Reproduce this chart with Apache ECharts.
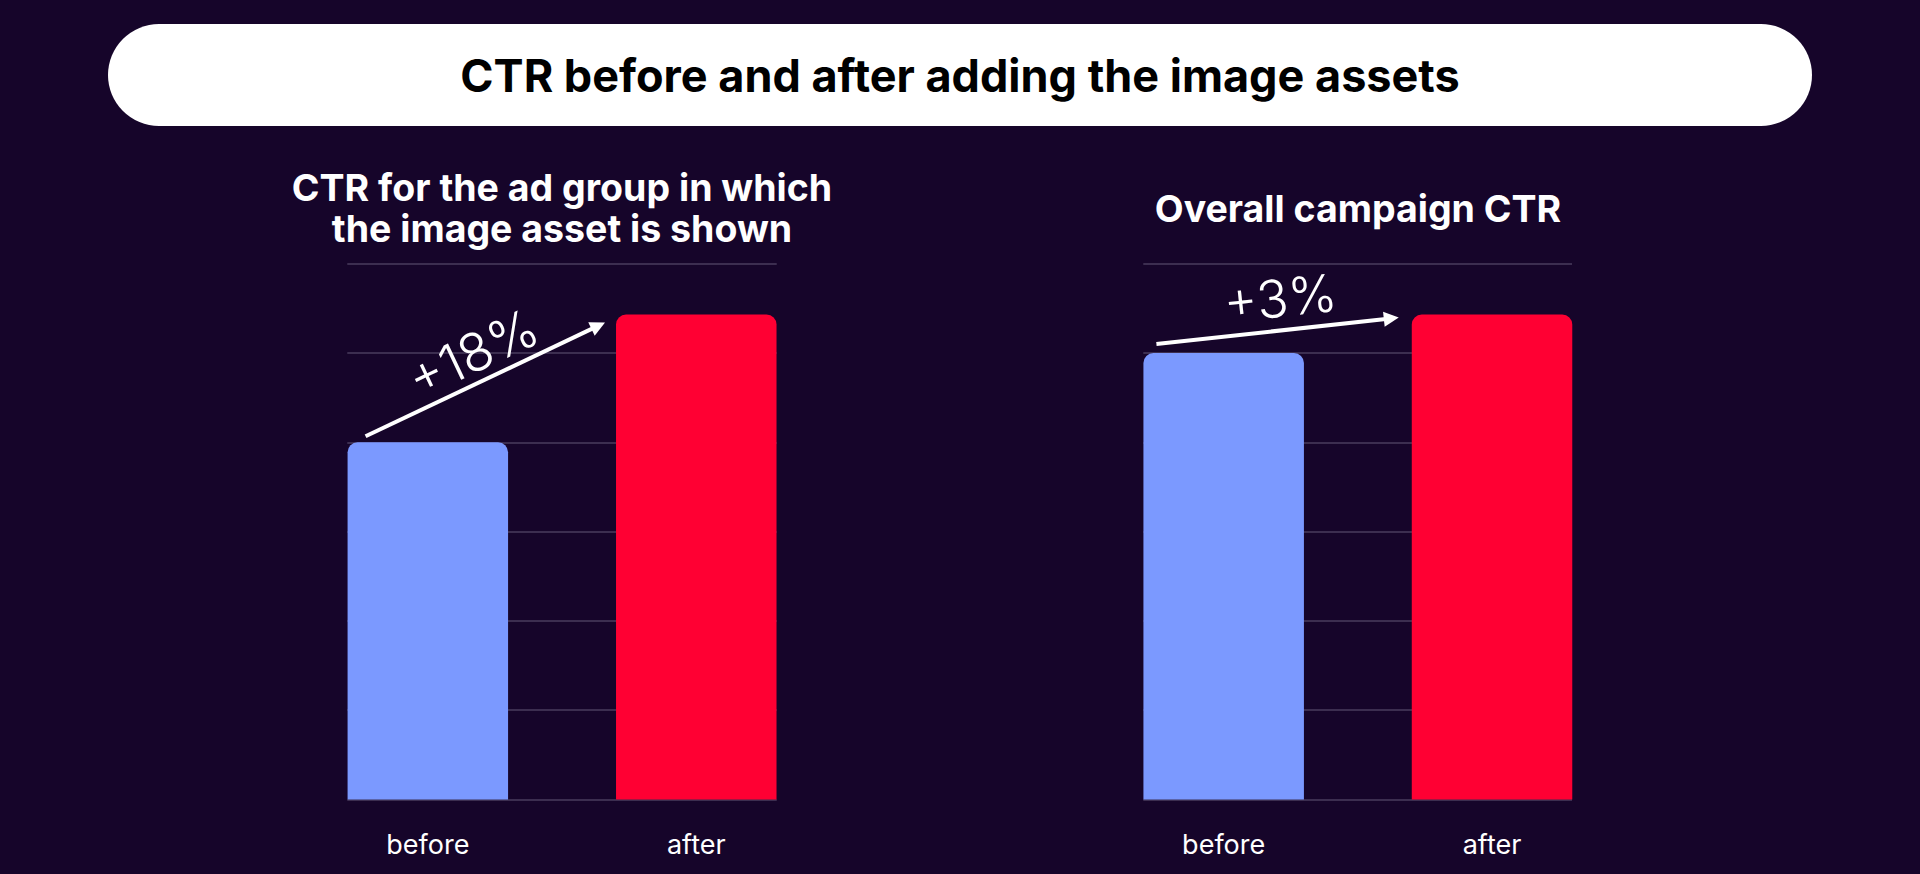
<!DOCTYPE html>
<html>
<head>
<meta charset="utf-8">
<script src="https://cdn.jsdelivr.net/npm/echarts@6/dist/echarts.min.js"></script>
<style>
html,body{margin:0;padding:0;background:#16052a;}
#c{width:1920px;height:874px;}
</style>
</head>
<body>
<div id="c"></div>
<script>
// ---- data ----
const mainTitle = 'CTR before and after adding the image assets';
const leftTitle = 'CTR for the ad group in which\nthe image asset is shown';
const rightTitle = 'Overall campaign CTR';
const categories = ['before', 'after'];
const leftValues = [4.0, 5.43];
const rightValues = [5.0, 5.43];
const leftChange = '+18%';
const rightChange = '+3%';
const yMin = 0, yMax = 6, yStep = 1;
const barColors = ['#7b99ff', '#ff0033'];

// ---- style ----
const BG = '#16052a';
const GRID_LINE = '#4a3d5e';
const FONT = 'Inter, "Noto Sans", sans-serif';
const BAR_W = 160.5;
const TOP = 263.7, BOTTOM = 74.5;

const chart = echarts.init(document.getElementById('c'), null, {renderer: 'svg'});

function barXAxis(gi) {
  return {
    gridIndex: gi, type: 'category', data: categories,
    axisLine: {show: false}, axisTick: {show: false},
    axisLabel: {color: '#ffffff', fontFamily: FONT, fontSize: 27, margin: 31}
  };
}
function lineXAxis(gi) {
  return {gridIndex: gi, type: 'category', data: categories, show: false};
}
function barYAxis(gi) {
  return {gridIndex: gi, type: 'value', min: yMin, max: yMax, interval: yStep, show: false};
}
function lineYAxis(gi) {
  return {
    gridIndex: gi, type: 'value', min: yMin, max: yMax, interval: yStep,
    axisLine: {show: false}, axisTick: {show: false}, axisLabel: {show: false},
    splitLine: {show: true, lineStyle: {color: GRID_LINE, width: 1.5}}
  };
}
function barSeries(gi, values) {
  return {
    type: 'bar', xAxisIndex: gi, yAxisIndex: gi, barWidth: BAR_W,
    data: values.map((v, i) => ({value: v, itemStyle: {color: barColors[i]}})),
    itemStyle: {borderRadius: [10, 10, 0, 0]},
    silent: true, z: 3
  };
}

const option = {
  backgroundColor: BG,
  animation: false,
  title: [
    {text: mainTitle, left: 960, top: 50, textAlign: 'center', padding: 0, z: 10,
     textStyle: {color: '#000000', fontFamily: FONT, fontWeight: 700, fontSize: 45, lineHeight: 50}},
    {text: leftTitle, left: 562, top: 166.5, textAlign: 'center', padding: 0,
     textStyle: {color: '#ffffff', fontFamily: FONT, fontWeight: 700, fontSize: 37.5, lineHeight: 41, align: 'center'}},
    {text: rightTitle, left: 1358, top: 187.5, textAlign: 'center', padding: 0,
     textStyle: {color: '#ffffff', fontFamily: FONT, fontWeight: 700, fontSize: 37.5, lineHeight: 41}}
  ],
  grid: [
    {left: 293.6, right: 1089.5, top: TOP, bottom: BOTTOM},
    {left: 347.3, right: 1143.3, top: TOP, bottom: BOTTOM},
    {left: 1089.5, right: 293.8, top: TOP, bottom: BOTTOM},
    {left: 1143.3, right: 348, top: TOP, bottom: BOTTOM}
  ],
  xAxis: [barXAxis(0), lineXAxis(1), barXAxis(2), lineXAxis(3)],
  yAxis: [barYAxis(0), lineYAxis(1), barYAxis(2), lineYAxis(3)],
  series: [barSeries(0, leftValues), barSeries(2, rightValues)],
  graphic: [
    {type: 'rect', z: 0, shape: {x: 108, y: 24, width: 1704, height: 102, r: 51}, style: {fill: '#ffffff'}, silent: true}
  ]
};
chart.setOption(option);

// ---- arrows + change labels, anchored to the bars ----
function arrowGraphics(gi, values, label, o) {
  const b = chart.convertToPixel({gridIndex: gi}, [0, values[0]]);
  const a = chart.convertToPixel({gridIndex: gi}, [1, values[1]]);
  const sx = b[0] - BAR_W / 2 + o.sx, sy = b[1] + o.sy;
  const tx = a[0] - BAR_W / 2 + o.tx, ty = a[1] + o.ty;
  const dx = tx - sx, dy = ty - sy;
  const len = Math.sqrt(dx * dx + dy * dy);
  const ux = dx / len, uy = dy / len;
  const hl = 15, hw = 7.5;
  const bx = tx - ux * hl, by = ty - uy * hl;
  const ang = Math.atan2(sy - ty, tx - sx);
  const mx = (sx + tx) / 2, my = (sy + ty) / 2;
  const nx = -Math.sin(ang), ny = -Math.cos(ang);
  return [
    {type: 'line', z: 5, silent: true,
     shape: {x1: sx, y1: sy, x2: bx + ux * 2, y2: by + uy * 2},
     style: {stroke: '#ffffff', lineWidth: 4}},
    {type: 'polygon', z: 5, silent: true,
     shape: {points: [[tx, ty], [bx - uy * hw, by + ux * hw], [bx + uy * hw, by - ux * hw]]},
     style: {fill: '#ffffff'}},
    {type: 'text', z: 5, silent: true,
     x: mx + nx * o.off + ux * o.along, y: my + ny * o.off + uy * o.along, rotation: ang,
     style: {text: label, fill: '#ffffff', font: '350 ' + o.size + 'px ' + FONT,
             textAlign: 'center', textVerticalAlign: 'middle', align: 'center', verticalAlign: 'middle'}}
  ];
}

const extra = []
  .concat(arrowGraphics(0, leftValues, leftChange, {sx: 18, sy: -6, tx: -11, ty: 8, off: 29, along: 0, size: 53}))
  .concat(arrowGraphics(2, rightValues, rightChange, {sx: 13, sy: -9, tx: -13, ty: 3, off: 32, along: 6, size: 52}));

chart.setOption({graphic: option.graphic.concat(extra)});
</script>
</body>
</html>
